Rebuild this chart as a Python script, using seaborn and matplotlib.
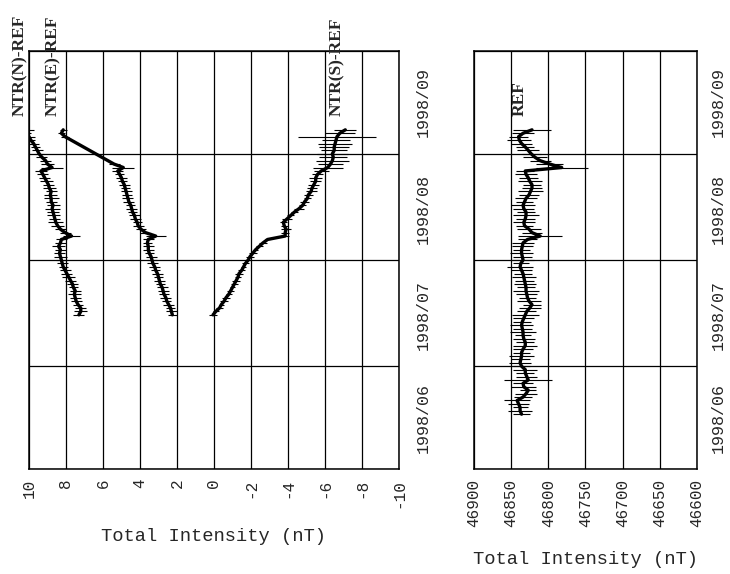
import matplotlib
matplotlib.use("Agg")

import matplotlib.dates as mdates
import matplotlib.pyplot as plt
import numpy as np
import pandas as pd
import seaborn as sns

nan = np.nan

# daily values, NTR series start 1998-07-16, REF starts 1998-06-17
NTR_START = "1998-07-16"
REF_START = "1998-06-17"

ntr_n = [7.3, 7.2, 7.2, 7.35, 7.45, 7.5, 7.55, 7.5, 7.6, 7.65,
         7.75, 7.85, 7.95, 8.05, 8.15, 8.2, 8.25, 8.3, 8.35, 8.3,
         8.4, 8.3, 8.25, 7.7, 8.05, 8.3, 8.45, 8.55, 8.6, 8.65,
         8.7, 8.75, 8.7, 8.8, 8.8, 8.85, 8.8, 8.9, 8.95, 9.05,
         9.15, 9.25, 9.35, 8.75, 9.0, 9.1, 9.3, 9.45, 9.55, 9.65,
         9.75, 9.9, 10.0, 10.15, 10.05]
ntr_n_err = [0.3, 0.35, 0.3, 0.25, 0.3, 0.3, 0.35, 0.3, 0.25, 0.3,
             0.3, 0.35, 0.3, 0.3, 0.25, 0.3, 0.3, 0.35, 0.3, 0.3,
             0.35, 0.3, 0.3, 0.45, 0.3, 0.3, 0.35, 0.4, 0.3, 0.35,
             0.3, 0.4, 0.35, 0.3, 0.4, 0.35, 0.3, 0.35, 0.3, 0.35,
             0.3, 0.3, 0.35, 0.6, 0.35, 0.3, 0.3, 0.25, 0.3, 0.25,
             0.3, 0.25, 0.3, 0.25, 0.3]

ntr_e = [2.25, 2.3, 2.35, 2.45, 2.55, 2.6, 2.7, 2.75, 2.8, 2.9,
         2.95, 3.0, 3.05, 3.15, 3.2, 3.3, 3.35, 3.4, 3.5, 3.55,
         3.55, 3.6, 3.55, 3.15, 3.7, 3.95, 4.1, 4.15, 4.25, 4.3,
         4.4, 4.45, 4.5, 4.6, 4.65, 4.7, 4.75, 4.8, 4.85, 4.95,
         5.0, 5.1, 5.2, 4.9, 5.4, nan, nan, nan, nan, nan,
         nan, nan, 8.05, 8.25, 8.15]
ntr_e_err = [0.25, 0.3, 0.25, 0.3, 0.25, 0.3, 0.25, 0.3, 0.3, 0.25,
             0.3, 0.25, 0.3, 0.25, 0.3, 0.3, 0.25, 0.3, 0.25, 0.3,
             0.3, 0.25, 0.3, 0.55, 0.3, 0.25, 0.3, 0.25, 0.3, 0.3,
             0.25, 0.3, 0.25, 0.3, 0.3, 0.25, 0.3, 0.25, 0.3, 0.25,
             0.3, 0.25, 0.3, 0.6, 0.3, nan, nan, nan, nan, nan,
             nan, nan, 0.2, 0.2, 0.2]

ntr_s = [0.05, -0.1, -0.3, -0.4, -0.55, -0.65, -0.8, -0.9, -1.0, -1.1,
         -1.2, -1.3, -1.35, -1.5, -1.6, -1.7, -1.85, -1.95, -2.1, -2.25,
         -2.45, -2.65, -2.9, -3.85, -3.85, -3.9, -3.8, -3.75, -3.95, -4.15,
         -4.35, -4.6, -4.8, -4.9, -5.05, -5.1, -5.25, -5.3, -5.4, -5.5,
         -5.5, -5.6, -5.8, -6.15, -6.3, -6.4, -6.45, -6.4, -6.5, -6.5,
         -6.55, -6.6, -6.65, -6.8, -7.1]
ntr_s_err = [0.2, 0.15, 0.2, 0.15, 0.2, 0.2, 0.15, 0.2, 0.15, 0.2,
             0.2, 0.15, 0.2, 0.2, 0.15, 0.2, 0.15, 0.2, 0.2, 0.15,
             0.2, 0.2, 0.15, 0.2, 0.2, 0.25, 0.2, 0.2, 0.25, 0.2,
             0.2, 0.25, 0.2, 0.25, 0.2, 0.25, 0.3, 0.25, 0.3, 0.3,
             0.35, 0.3, 0.4, 0.8, 0.7, 0.9, 0.75, 0.85, 0.7, 0.8,
             0.9, 0.75, 2.1, 0.8, 0.6]

ref = [46836, 46838, 46838, 46840, 46842, 46834, 46830, 46827, 46833, 46834,
       46827, 46829, 46831, 46831, 46836, 46838, 46837, 46836, 46836, 46834,
       46831, 46831, 46833, 46834, 46834, 46835, 46836, 46835, 46833, 46831,
       46829, 46825, 46822, 46826, 46828, 46829, 46830, 46830, 46831, 46832,
       46833, 46834, 46836, 46838, 46837, 46834, 46835, 46836, 46836, 46835,
       46834, 46828, 46811, 46822, 46826, 46832, 46833, 46831, 46830, 46830,
       46833, 46834, 46832, 46830, 46826, 46824, 46822, 46822, 46825, 46827,
       46830, 46831, 46782, 46798, 46811, 46818, 46823, 46827, 46831, 46836,
       46839, 46840, 46834, 46822]
ref_err = [12, 16, 10, 14, 18, 12, 15, 11, 17, 13,
           32, 14, 12, 16, 11, 15, 13, 17, 12, 14,
           16, 12, 15, 11, 17, 13, 16, 12, 14, 18,
           13, 15, 12, 16, 11, 14, 17, 12, 15, 13,
           16, 12, 14, 18, 11, 15, 13, 16, 12, 14,
           15, 13, 30, 14, 16, 12, 15, 13, 17, 12,
           14, 16, 12, 15, 13, 17, 14, 12, 16, 13,
           15, 12, 35, 18, 14, 16, 13, 15, 12, 14,
           16, 13, 15, 25]

left_ticks = [10, 8, 6, 4, 2, 0, -2, -4, -6, -8, -10]
right_ticks = [46900, 46850, 46800, 46750, 46700, 46650, 46600]
month_labels = ["1998/06", "1998/07", "1998/08", "1998/09"]
month_mid = ["1998-06-16", "1998-07-16", "1998-08-16", "1998-09-16"]


def draw_series(ax, start, values, errors):
    dates = pd.date_range(start, periods=len(values), freq="D")
    df = pd.DataFrame({"date": mdates.date2num(dates), "value": values, "err": errors}).dropna()
    ax.errorbar(df["value"], df["date"], xerr=df["err"], fmt="none",
                ecolor="black", elinewidth=0.8, capsize=0, zorder=3)
    sns.lineplot(data=df, x="value", y="date", orient="y", sort=False, estimator=None,
                 color="black", linewidth=2.4, ax=ax, zorder=4)


def style_axes(ax, xlim, ticks, label_y, date_pad):
    ax.set_xlim(*xlim)
    ax.set_xticks(ticks)
    ax.set_ylim(mdates.date2num(pd.Timestamp("1998-06-01")), mdates.date2num(pd.Timestamp("1998-10-01")))
    ax.yaxis.set_major_locator(mdates.MonthLocator())
    ax.yaxis.set_major_formatter(plt.NullFormatter())
    ax.yaxis.tick_right()
    ax.set_yticks(mdates.date2num(pd.to_datetime(month_mid)), labels=month_labels, minor=True)
    for lbl in ax.get_yticklabels(minor=True):
        lbl.set_rotation(90)
        lbl.set_verticalalignment("center")
    ax.tick_params(axis="y", which="both", length=0)
    ax.tick_params(axis="y", which="minor", labelsize=12, pad=date_pad)
    ax.tick_params(axis="x", length=0, labelrotation=90, labelsize=11.5, pad=7)
    ax.grid(True, which="major", color="black", linewidth=0.9)
    ax.set_axisbelow(True)
    for sp in ax.spines.values():
        sp.set_color("black")
        sp.set_linewidth(1.1)
    ax.set_xlabel("Total Intensity (nT)", fontsize=13.5)
    ax.set_ylabel("")
    ax.xaxis.set_label_coords(0.5, label_y)


def add_label(ax, x, text):
    ax.text(x, mdates.date2num(pd.Timestamp("1998-09-12")), text, rotation=90,
            ha="center", va="bottom", fontsize=12.5, fontweight="bold",
            family=["Liberation Serif", "DejaVu Serif"], clip_on=False)


def main():
    sns.set_theme(style="white")
    plt.rcParams["font.family"] = ["Liberation Mono", "DejaVu Sans"]
    plt.rcParams["axes.unicode_minus"] = False

    fig = plt.figure(figsize=(7.3, 5.74), dpi=100)
    ax1 = fig.add_axes([0.0397, 0.1829, 0.5068, 0.7282])
    ax2 = fig.add_axes([0.6493, 0.1829, 0.3055, 0.7282])

    draw_series(ax1, NTR_START, ntr_n, ntr_n_err)
    draw_series(ax1, NTR_START, ntr_e, ntr_e_err)
    draw_series(ax1, NTR_START, ntr_s, ntr_s_err)
    draw_series(ax2, REF_START, ref, ref_err)

    style_axes(ax1, (10, -10), left_ticks, -0.14, 12)
    style_axes(ax2, (46900, 46600), right_ticks, -0.195, 10)

    add_label(ax1, 10.5, "NTR(N)-REF")
    add_label(ax1, 8.7, "NTR(E)-REF")
    add_label(ax1, -6.65, "NTR(S)-REF")
    add_label(ax2, 46838, "REF")

    fig.savefig("out.png", dpi=100)
    plt.close(fig)


if __name__ == "__main__":
    main()
